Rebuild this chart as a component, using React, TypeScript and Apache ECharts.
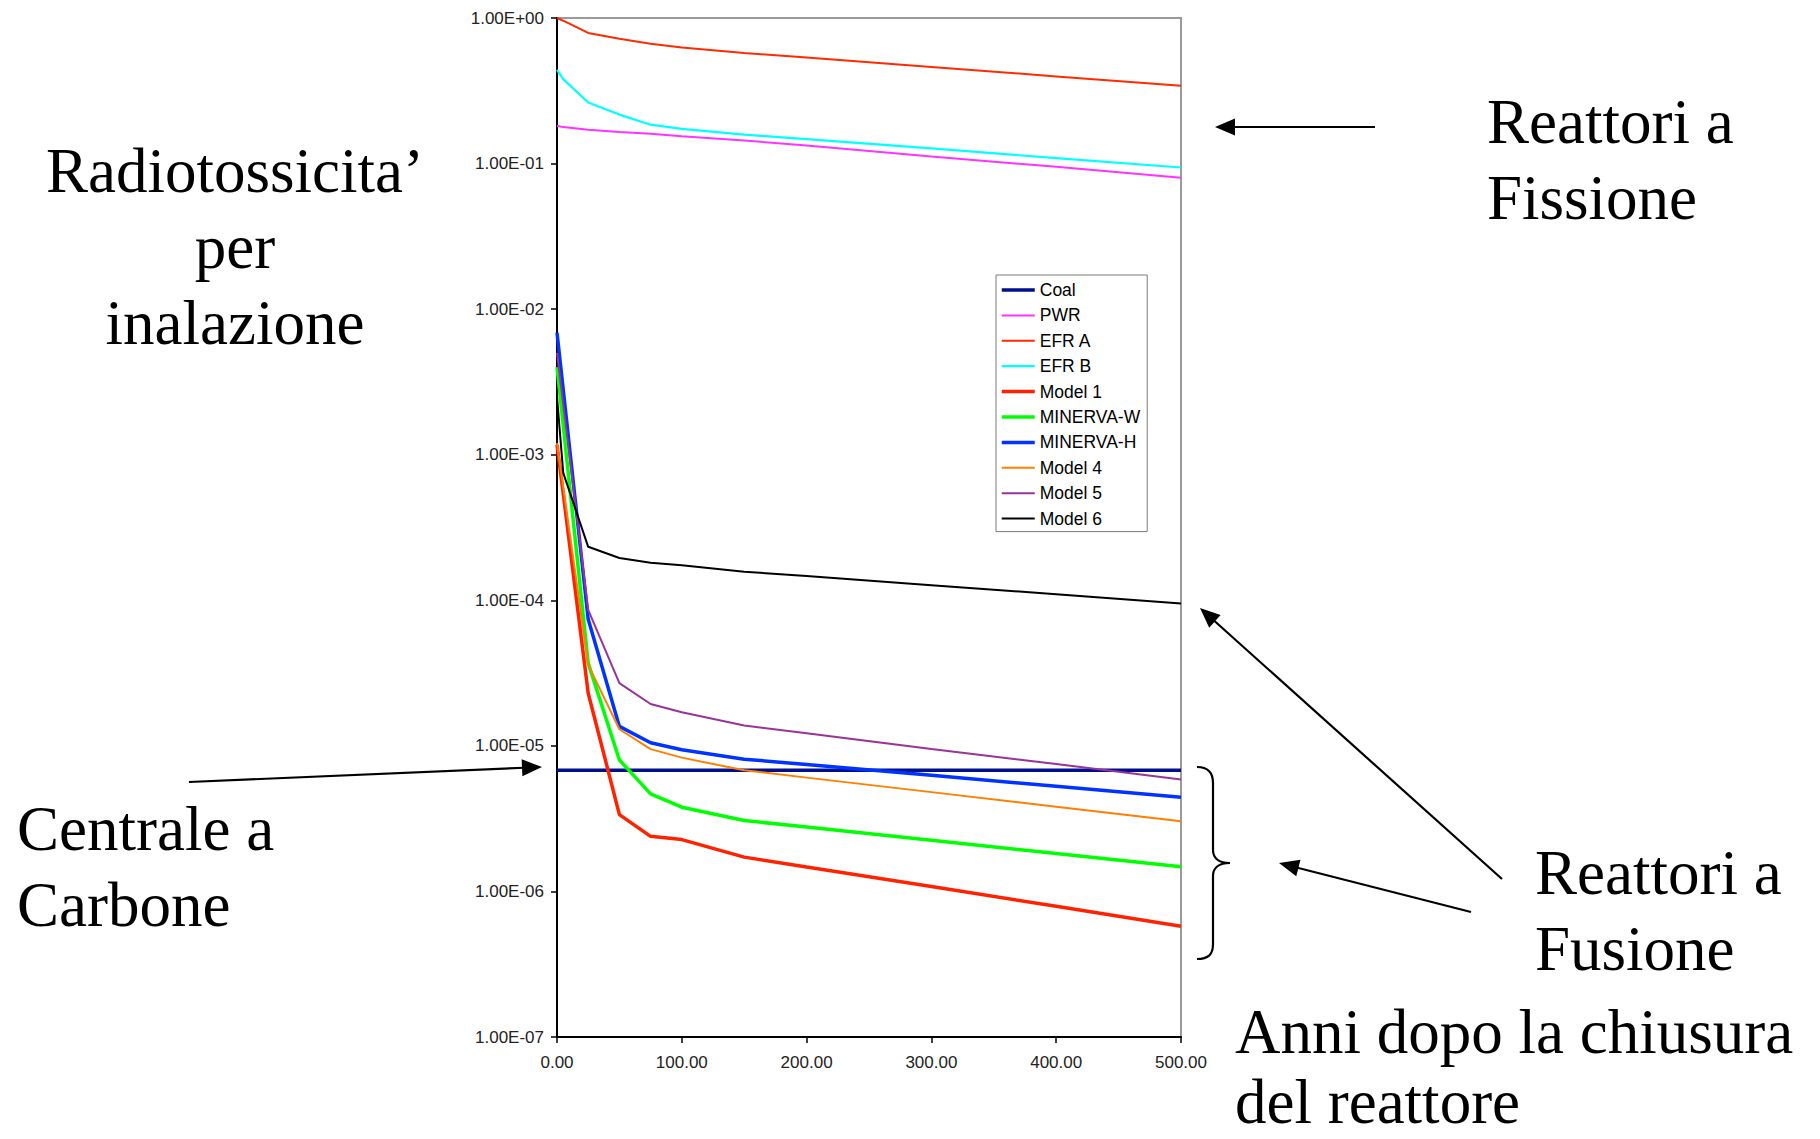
import React, { useEffect, useRef } from 'react';
import * as echarts from 'echarts';

// Years after reactor shutdown (x values shared by every series)
const years = [0, 5, 25, 50, 75, 100, 150, 200, 300, 400, 500];

// Inhalation radiotoxicity (relative)
const coal = [6.8e-6, 6.8e-6, 6.8e-6, 6.8e-6, 6.8e-6, 6.8e-6, 6.8e-6, 6.8e-6, 6.8e-6, 6.8e-6, 6.8e-6];
const pwr = [0.182, 0.178, 0.171, 0.165, 0.16, 0.154, 0.144, 0.133, 0.112, 0.095, 0.08];
const efrA = [1.0, 0.958, 0.79, 0.72, 0.666, 0.628, 0.575, 0.535, 0.461, 0.397, 0.343];
const efrB = [0.44, 0.38, 0.263, 0.217, 0.185, 0.173, 0.158, 0.147, 0.127, 0.109, 0.094];
const model1 = [1.17e-3, 5.4e-4, 2.3e-5, 3.37e-6, 2.39e-6, 2.27e-6, 1.72e-6, 1.47e-6, 1.08e-6, 7.9e-7, 5.77e-7];
const minervaW = [4.0e-3, 1.6e-3, 3.7e-5, 8.0e-6, 4.68e-6, 3.79e-6, 3.07e-6, 2.77e-6, 2.25e-6, 1.82e-6, 1.48e-6];
const minervaH = [6.9e-3, 2.8e-3, 7.4e-5, 1.36e-5, 1.05e-5, 9.4e-6, 8.1e-6, 7.46e-6, 6.28e-6, 5.27e-6, 4.43e-6];
const model4 = [1.2e-3, 6.0e-4, 3.6e-5, 1.3e-5, 9.5e-6, 8.3e-6, 6.8e-6, 6.05e-6, 4.81e-6, 3.82e-6, 3.03e-6];
const model5 = [5.0e-3, 2.2e-3, 8.6e-5, 2.7e-5, 1.94e-5, 1.7e-5, 1.38e-5, 1.22e-5, 9.5e-6, 7.5e-6, 5.87e-6];
const model6 = [2.5e-3, 7.5e-4, 2.33e-4, 1.95e-4, 1.81e-4, 1.74e-4, 1.57e-4, 1.47e-4, 1.27e-4, 1.1e-4, 9.5e-5];

const seriesNames = ['Coal', 'PWR', 'EFR A', 'EFR B', 'Model 1', 'MINERVA-W', 'MINERVA-H', 'Model 4', 'Model 5', 'Model 6'];
const seriesValues = [coal, pwr, efrA, efrB, model1, minervaW, minervaH, model4, model5, model6];
const seriesColors = ['#00108a', '#ff33ff', '#ff2a00', '#00ffff', '#ff2200', '#00ff00', '#0033ff', '#ff8000', '#993399', '#000000'];
const seriesWidths = [3.5, 2, 2, 2.2, 3.5, 3.5, 3.5, 2, 2, 2];

const SERIF = '"Liberation Serif", "Times New Roman", serif';
const SANS = '"Liberation Sans", Arial, sans-serif';

function fmtY(v: number): string {
  const e = Math.round(Math.log10(v));
  return '1.00E' + (e < 0 ? '-' : '+') + String(Math.abs(e)).padStart(2, '0');
}

function arrow(x1: number, y1: number, x2: number, y2: number): any[] {
  const dx = x2 - x1;
  const dy = y2 - y1;
  const len = Math.sqrt(dx * dx + dy * dy);
  const ux = dx / len;
  const uy = dy / len;
  const hl = 20;
  const hw = 8.5;
  const bx = x2 - ux * hl;
  const by = y2 - uy * hl;
  return [
    {
      type: 'line',
      shape: { x1, y1, x2: bx + ux * 2, y2: by + uy * 2 },
      style: { stroke: '#000', lineWidth: 2.2 },
      silent: true,
    },
    {
      type: 'polygon',
      shape: {
        points: [
          [x2, y2],
          [bx - uy * hw, by + ux * hw],
          [bx + uy * hw, by - ux * hw],
        ],
      },
      style: { fill: '#000' },
      silent: true,
    },
  ];
}

function bigText(text: string, x: number, baseline: number, align: string = 'left'): any {
  return {
    type: 'text',
    x,
    y: baseline - 22,
    style: {
      text,
      font: `63px ${SERIF}`,
      fill: '#000',
      align,
      verticalAlign: 'middle',
      lineHeight: 54,
    },
    silent: true,
  };
}

function braceParts(): any[] {
  const st = { stroke: '#000', lineWidth: 2.2, fill: 'none' };
  return [
    { type: 'bezierCurve', shape: { x1: 1197, y1: 767, cpx1: 1208, cpy1: 767, cpx2: 1213, cpy2: 772, x2: 1213, y2: 783 }, style: st },
    { type: 'line', shape: { x1: 1213, y1: 783, x2: 1213, y2: 850 }, style: st },
    { type: 'bezierCurve', shape: { x1: 1213, y1: 850, cpx1: 1213, cpy1: 859, cpx2: 1220, cpy2: 863, x2: 1230, y2: 863 }, style: st },
    { type: 'bezierCurve', shape: { x1: 1230, y1: 863, cpx1: 1220, cpy1: 863, cpx2: 1213, cpy2: 867, x2: 1213, y2: 876 }, style: st },
    { type: 'line', shape: { x1: 1213, y1: 876, x2: 1213, y2: 944 }, style: st },
    { type: 'bezierCurve', shape: { x1: 1213, y1: 944, cpx1: 1213, cpy1: 955, cpx2: 1208, cpy2: 959, x2: 1197, y2: 959 }, style: st },
  ];
}

export default function App() {
  const ref = useRef<HTMLDivElement>(null);

  useEffect(() => {
    if (!ref.current) return;
    const chart = echarts.init(ref.current, undefined, { renderer: 'svg' });

    const series = seriesNames.map((name, i) => ({
      name,
      type: 'line',
      data: years.map((x, j) => [x, seriesValues[i][j]]),
      symbol: 'none',
      showSymbol: false,
      smooth: false,
      lineStyle: { color: seriesColors[i], width: seriesWidths[i] },
      itemStyle: { color: seriesColors[i] },
      z: 2 + i * 0.01,
    }));

    const legendData = seriesNames.map((name, i) => ({
      name,
      lineStyle: { color: seriesColors[i], width: seriesWidths[i] },
    }));

    const graphic: any[] = [
      bigText('Radiotossicita\u2019', 235, 193, 'center'),
      bigText('per', 235, 269, 'center'),
      bigText('inalazione', 235, 345, 'center'),
      bigText('Centrale a', 17, 851),
      bigText('Carbone', 17, 927),
      bigText('Reattori a', 1487, 144),
      bigText('Fissione', 1487, 220),
      bigText('Reattori a', 1535, 895),
      bigText('Fusione', 1535, 971),
      bigText('Anni dopo la chiusura', 1235, 1054),
      bigText('del reattore', 1235, 1124),
      ...arrow(1375, 127, 1215, 127),
      ...arrow(189, 782, 542, 767),
      ...arrow(1502, 879, 1200, 608),
      ...arrow(1471, 912, 1279, 863),
      ...braceParts(),
    ];

    chart.setOption({
      animation: false,
      backgroundColor: '#ffffff',
      grid: {
        left: 557,
        top: 18,
        right: 639,
        bottom: 102,
        show: true,
        borderColor: '#9a9a9a',
        borderWidth: 2,
        backgroundColor: 'transparent',
      },
      xAxis: {
        type: 'value',
        min: 0,
        max: 500,
        interval: 100,
        axisLine: { show: true, onZero: false, lineStyle: { color: '#000', width: 2 } },
        axisTick: { show: true, length: 6, lineStyle: { color: '#000', width: 1.5 } },
        splitLine: { show: false },
        axisLabel: {
          formatter: (v: number) => v.toFixed(2),
          fontSize: 17,
          fontFamily: SANS,
          color: '#222',
          margin: 17,
        },
      },
      yAxis: {
        type: 'log',
        logBase: 10,
        min: 1e-7,
        max: 1,
        interval: 1,
        axisLine: { show: true, lineStyle: { color: '#000', width: 2 } },
        axisTick: { show: true, length: 6, lineStyle: { color: '#000', width: 1.5 } },
        minorTick: { show: false },
        splitLine: { show: false },
        axisLabel: {
          formatter: fmtY,
          fontSize: 17,
          fontFamily: SANS,
          color: '#222',
          margin: 13,
        },
      },
      legend: {
        show: true,
        orient: 'vertical',
        left: 996,
        top: 275,
        padding: [6, 7, 4, 4],
        itemGap: 7.4,
        itemWidth: 33,
        itemHeight: 14,
        backgroundColor: '#ffffff',
        borderColor: '#7a7a7a',
        borderWidth: 1,
        borderRadius: 0,
        selectedMode: false,
        itemStyle: { color: 'transparent', borderWidth: 0, opacity: 0 },
        textStyle: { fontSize: 17.5, fontFamily: SANS, color: '#000', padding: [0, 0, 0, 0] },
        data: legendData,
      },
      series,
      graphic,
    });

    return () => {
      chart.dispose();
    };
  }, []);

  return (
    <div
      ref={ref}
      style={{ position: 'absolute', left: 0, top: 0, width: 1820, height: 1139, background: '#fff' }}
    />
  );
}
